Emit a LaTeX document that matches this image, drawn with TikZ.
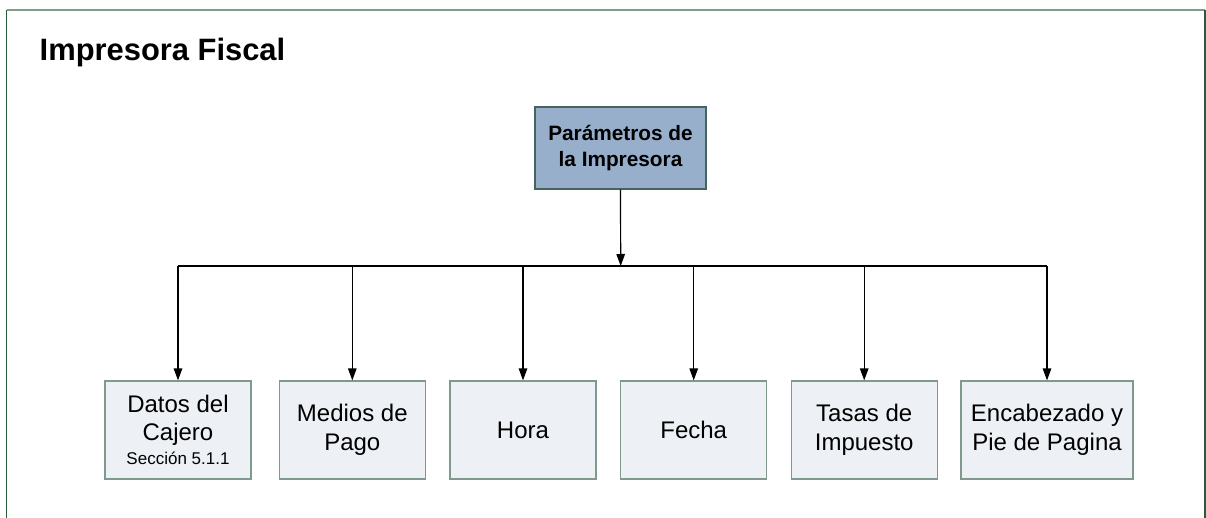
\documentclass[tikz,border=0pt]{standalone}
\usepackage{fontspec}
\setmainfont{Liberation Sans}
\usetikzlibrary{arrows.meta}
\definecolor{frameg}{HTML}{2A5A3A}
\definecolor{frametop}{HTML}{7E9C88}
\definecolor{topfill}{HTML}{98AFCC}
\definecolor{topedge}{HTML}{45655A}
\definecolor{subfill}{HTML}{EDF0F5}
\definecolor{subedge}{HTML}{7F9A8C}
\begin{document}
\begin{tikzpicture}[x=1pt,y=-1pt,
  topbox/.style={draw=topedge,fill=topfill,line width=1.2pt,minimum width=171pt,minimum height=82pt,inner sep=0pt,align=center,font=\fontsize{20.8}{25.5}\selectfont\bfseries},
  subbox/.style={draw=subedge,fill=subfill,line width=1.2pt,minimum width=146pt,minimum height=98pt,inner sep=0pt,align=center,font=\fontsize{24}{28.5}\selectfont},
  conn/.style={line width=1.2pt,draw=black},
  arr/.style={conn,-{Triangle[length=12pt,width=8.5pt]}}]
\useasboundingbox (0,0) rectangle (1206,518);
\fill[white] (0,0) rectangle (1206,518);
% frame
\draw[frametop,line width=1.5pt] (6.5,10) -- (1205,10);
\draw[frameg,line width=1.5pt] (6.5,10) -- (6.5,518);
\draw[frameg,line width=1.5pt] (1205,10) -- (1205,518);
% title
\node[anchor=base west,inner sep=0pt,font=\fontsize{30.9}{36}\selectfont\bfseries] (title) at (39.5,61) {Impresora Fiscal};
% top box
\node[topbox] (top) at (620.5,148) {Parámetros de\\la Impresora};
% sub boxes
\node[subbox] (datos) at (178,430) {Datos del\\Cajero\\[-4.5pt]{\fontsize{17}{20}\selectfont Sección 5.1.1}};
\node[subbox] (medios) at (352.3,430) {Medios de\\Pago};
\node[subbox] (hora) at (523,430) {Hora};
\node[subbox] (fecha) at (693.7,430) {Fecha};
\node[subbox] (tasas) at (864.2,430) {Tasas de\\Impuesto};
\node[subbox,minimum width=172pt] (encab) at (1047,430) {Encabezado y\\Pie de Pagina};
% bus
\coordinate (bus) at (620.7,266);
\coordinate (busL) at (178,266);
\coordinate (busR) at (1047,266);
\draw[conn] (busL) -- (busR);
\draw[arr] (top.south) -- (bus);
\foreach \n in {datos,medios,hora,fecha,tasas,encab}{
  \draw[arr] (\n.north |- bus) -- (\n.north);
}
\end{tikzpicture}
\end{document}
